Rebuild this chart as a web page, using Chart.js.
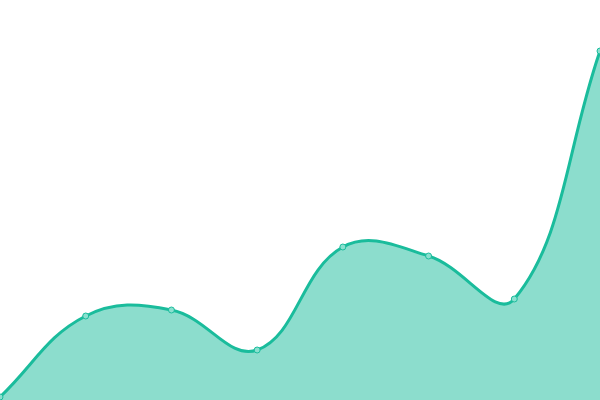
<!DOCTYPE html>
<html>
<head>
<meta charset="utf-8">
<script src="https://cdn.jsdelivr.net/npm/chart.js@4"></script>
<style>
  html, body { margin: 0; padding: 0; background: #fff; }
  #wrap { width: 600px; height: 400px; }
</style>
</head>
<body>
<div id="wrap"><canvas id="c"></canvas></div>
<script>
const categories = ["1", "2", "3", "4", "5", "6", "7", "8"];
const values = [3, 84, 90, 50, 153, 144, 101, 349];

new Chart(document.getElementById('c'), {
  type: 'line',
  data: {
    labels: categories,
    datasets: [{
      data: values,
      borderColor: '#1abc9c',
      backgroundColor: 'rgba(26,188,156,0.5)',
      borderWidth: 3,
      fill: true,
      tension: 0.4,
      pointRadius: 3,
      pointBorderWidth: 1,
      pointBackgroundColor: '#8ae0cf',
      pointBorderColor: '#1abc9c'
    }]
  },
  options: {
    responsive: true,
    maintainAspectRatio: false,
    animation: false,
    layout: { padding: 0, autoPadding: false },
    plugins: { legend: { display: false }, tooltip: { enabled: false } },
    scales: {
      x: { display: false, offset: false },
      y: { display: false, min: 0, max: 400 }
    }
  }
});
</script>
</body>
</html>
